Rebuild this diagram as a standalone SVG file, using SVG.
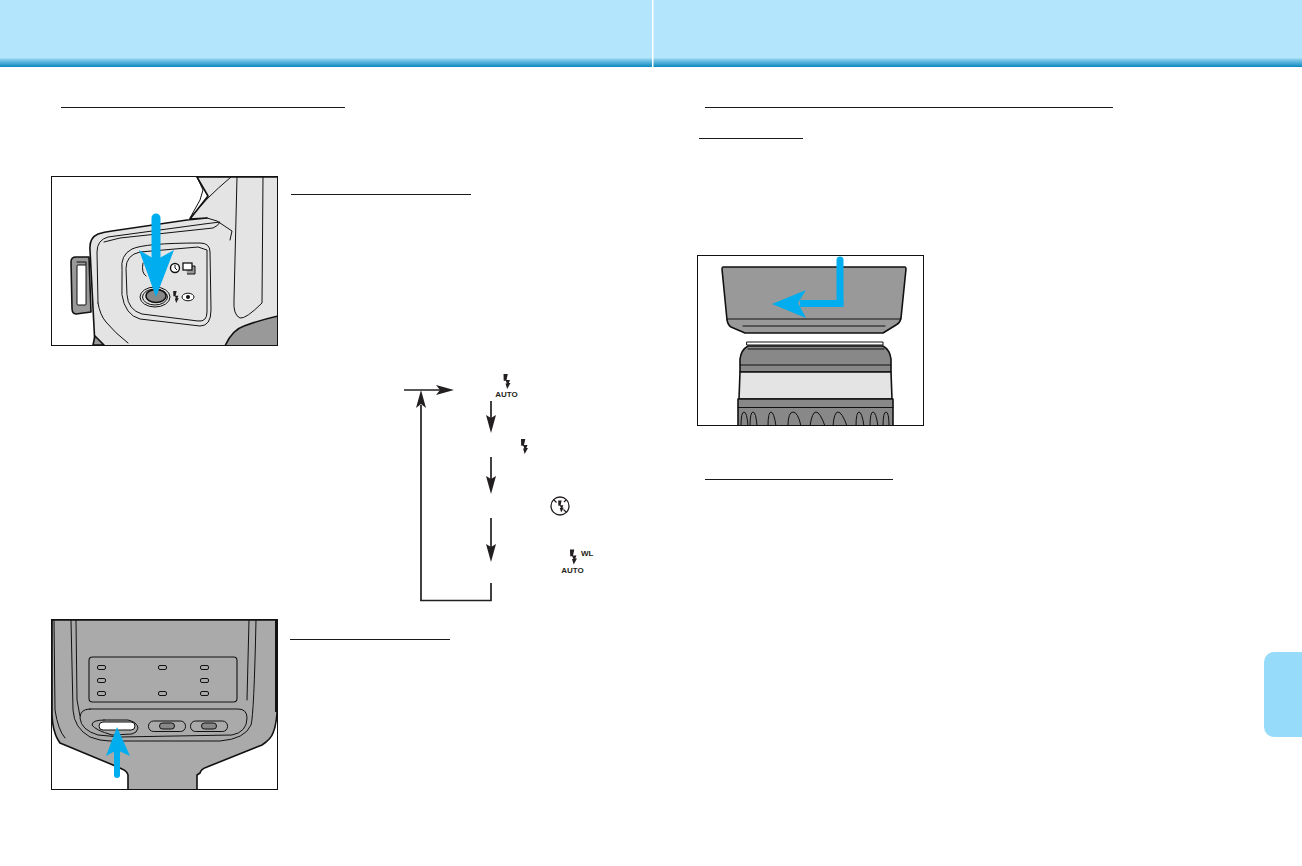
<svg xmlns="http://www.w3.org/2000/svg" width="1302" height="866" viewBox="0 0 1302 866">
<style>
.k{fill:none;stroke:#111;stroke-width:1;stroke-linejoin:round;stroke-linecap:round}
.o{stroke:#111;stroke-width:1.6;stroke-linejoin:round}
.h{stroke:#111;stroke-width:1;fill:none}
.b{fill:none;stroke:#00aeef;stroke-linecap:round}
.bf{fill:#00aeef}
.a{fill:none;stroke:#231f20;stroke-width:1.7}
.ah{fill:#231f20}
.t{font-family:"Liberation Sans",Arial,sans-serif;font-weight:700;fill:#231f20;font-size:8px}
</style>
<defs>
<linearGradient id="g" x1="0" y1="0" x2="0" y2="1">
<stop offset="0" stop-color="#b3e5fc"/><stop offset="0.1" stop-color="#8fd2ee"/><stop offset="1" stop-color="#0a88bf"/>
</linearGradient>
<path id="bolt" d="M-3.500-7.500 .8-7.500-.5-1.500 3-1.500 1.800 1.500 3.500 1.500 .2 7.500-1.500 2-.2 2-1.200-.8-3.300-.8Z" fill="#231f20"/>
<clipPath id="c1"><rect x="52" y="177" width="225" height="168"/></clipPath>
<clipPath id="c2"><rect x="52" y="620" width="225" height="169"/></clipPath>
<clipPath id="c3"><rect x="698" y="256" width="225" height="169"/></clipPath>
</defs>
<rect width="1302" height="866" fill="#fff"/>
<g id="header">
<rect x="0" y="0" width="1302" height="58" fill="#b3e5fc"/>
<rect x="0" y="58" width="1302" height="9" fill="url(#g)"/>
<rect x="652" y="0" width="1.500" height="67" fill="#fff"/>
</g>
<rect id="side-tab" x="1264" y="652" width="50" height="85" rx="10" fill="#96dcfa"/>
<g id="rules" stroke="#1a1a1a" stroke-width="1">
<path d="M61 107.500H345M705 107.500H1113M699 138.500H803M291 194.500H471M290 639.500H450M705 479.500H893"/>
</g>
<g id="camera-top">
<g clip-path="url(#c1)">
<rect x="52" y="177" width="225" height="168" fill="#fff"/>
<path class="o" fill="#e4e4e4" d="M197 177H278V346H95L90 250Q89 238 98 234 104 232 112 231L187 220 207 218 190 219 208 196Z"/>
<path class="k" d="M197 177 203 190 200 200 190 218M231 177Q218 188 208 198L190 218M237 177 234 300Q233 315 240 318 246 319 262 303L263 177"/>
<path class="k" d="M207 218 217 221 232 231 230 240"/>
<path class="o" fill="#999" d="M93 345 95 336 104 345ZM225 346Q232 330 244 326 260 320 278 316V346Z"/>
<path class="k" d="M98 303 97 252Q97 240 108 237L204 224 220 222Q218 226 213 228L120 238 104 242"/>
<path class="k" d="M98 303Q100 315 106 322 115 333 128 343"/>
<path class="k" d="M122 270Q120 255 132 249 145 243 200 243 210 243 210 252L211 310Q211 326 200 326L140 319Q125 315 122 295Z"/>
<path class="k" d="M126 268Q126 255 140 252L198 247 207 250 207 312Q207 322 198 321L142 314Q128 310 127 295Z"/>
<path class="o" fill="#999" d="M71 262Q71 257 76 257H89L91 312 76 314Q72 314 72 308Z"/>
<rect x="77" y="265" width="9" height="40" rx="1" fill="#fff" stroke="#111"/>
<path class="k" d="M77 262H86V265"/>
<ellipse cx="155" cy="297" rx="15" ry="10" fill="#e4e4e4" stroke="#111"/>
<ellipse cx="155" cy="297" rx="12.500" ry="8" fill="#e4e4e4" stroke="#111"/>
<ellipse cx="156" cy="296" rx="10" ry="6.500" fill="#888" stroke="#111" stroke-width="1.500"/>
<use href="#bolt" transform="translate(176 297) scale(.8)"/>
<ellipse cx="188" cy="297" rx="6" ry="3.800" fill="#fff" stroke="#111"/><circle cx="188" cy="297" r="2" fill="#111"/>
<circle cx="175" cy="268" r="4.500" fill="#fff" stroke="#111" stroke-width="1.400"/>
<path d="M175 265V268L177 270" stroke="#111" fill="none"/>
<path d="M186 266h9v8h-8" fill="#999" stroke="#111"/>
<rect x="183" y="263" width="9" height="7" fill="#fff" stroke="#111" stroke-width="1.300"/>
<path class="k" d="M143 263Q141 273 146 276"/>
<line class="b" x1="156" y1="218" x2="156" y2="262" stroke-width="9"/>
<path class="bf" d="M139 250 156 260 174 250 156 297Z"/>
</g>
<rect x="51.500" y="176.500" width="226" height="169" class="h"/>
</g>
<g id="flash-back">
<g clip-path="url(#c2)">
<rect x="52" y="620" width="225" height="169" fill="#fff"/>
<path class="o" fill="#aaa" d="M52 620H277V713Q276 726 273 733 271 739 262 745L207 767Q201 769 200 773L197 775V790H128V775Q127 771 122 769L113 765 60 743Q56 737 55 733 52 724 52 713Z"/>
<path d="M276 620V712" stroke="#111" stroke-width="2"/>
<path class="k" d="M54 620 55 710Q58 730 65 738M71 620 73 710Q74 728 90 737 100 741 110 741H220Q245 739 251 725 254 715 256 620M76 620 77 700 80 716M249 620 247 700"/>
<rect x="89" y="657" width="148" height="45" rx="3.500" fill="none" stroke="#111" stroke-width="1.100"/>
<g fill="#aaa" stroke="#111">
<rect x="97.500" y="665.500" width="8" height="4" rx="1.500"/><rect x="97.500" y="678.500" width="8" height="4" rx="1.500"/><rect x="97.500" y="691.500" width="8" height="4" rx="1.500"/>
<rect x="158.500" y="665.500" width="8" height="4" rx="1.500"/><rect x="158.500" y="691.500" width="8" height="4" rx="1.500"/>
<rect x="200.500" y="665.500" width="8" height="4" rx="1.500"/><rect x="200.500" y="678.500" width="8" height="4" rx="1.500"/><rect x="200.500" y="691.500" width="8" height="4" rx="1.500"/>
</g>
<path class="k" d="M90 709H238Q247 709 247 718 247 732 232 735L120 737 98 735Q81 730 80 718 80 709 90 709Z"/>
<path class="k" d="M104 720H128Q137 722 138 728 137 733 132 734L112 735Q95 730 92 725 92 720 104 720Z"/>
<rect x="99" y="722" width="36" height="8" rx="4" fill="#fff" stroke="#111"/>
<rect x="148.500" y="721" width="37" height="10.500" rx="5" fill="none" stroke="#111"/>
<rect x="159.500" y="723" width="15" height="6" rx="3" fill="#888" stroke="#111"/>
<rect x="190.500" y="721" width="37" height="10.500" rx="5" fill="none" stroke="#111"/>
<rect x="201.500" y="723" width="15" height="6" rx="3" fill="#888" stroke="#111"/>
<line class="b" x1="117" y1="750" x2="117" y2="775" stroke-width="6"/>
<path class="bf" d="M117 727 130 756 117 750 106 756Z"/>
</g>
<rect x="51.500" y="619.500" width="226" height="170" class="h"/>
</g>
<g id="lens-hood">
<g clip-path="url(#c3)">
<rect x="698" y="256" width="225" height="169" fill="#fff"/>
<path class="o" fill="#999" d="M723 267H905Q906 267 906 269L901 318Q900 323 896 325L883 333H745L731 327Q728 325 727 320L722 269Q722 267 723 267Z"/>
<path class="k" d="M727 319H901M743 326H885"/>
<path class="k" fill="#bbb" d="M747 342H883V345H747Z"/>
<path class="o" fill="#888" d="M740 372V359Q741 350 748 346H883Q890 350 891 359V372Z"/>
<path class="k" d="M748 349H884M740 365H891"/>
<path class="o" fill="#e4e4e4" d="M740 372H891L892 399H739Z"/>
<path class="o" fill="#888" d="M738 399H893V426H738Z"/>
<path class="k" d="M738 407.500H893"/>
<g class="k">
<path d="M741 426Q741 412 744 412T748 426M750 426Q750 412 753 412T757 426M768 426Q768 412 771 412T776 426M788 426Q788 412 793 412T801 426M810 426Q812 412 816 412T825 426M833 426Q834 412 838 412T847 426M856 426Q856 412 859 412T864 426M870 426Q870 412 873 412T878 426M883 426Q883 412 886 412T889 426"/>
</g>
<path class="b" d="M840 260V303" stroke-width="7"/>
<path d="M843.500 303.500H800" fill="none" stroke="#00aeef" stroke-width="7"/>
<path class="bf" d="M772 304 806 290 798 303 806 318Z"/>
</g>
<rect x="697.500" y="255.500" width="226" height="170" class="h"/>
</g>
<g id="connectors">
<path class="a" d="M404 390H440"/><path class="ah" d="M454 390 436 385 440 390 436 395Z"/>
<path class="a" d="M421 601V405"/><path class="ah" d="M421 390 416 408 421 404 426 408Z"/>
<path class="a" d="M420.200 600.500H491V583"/>
<path class="a" d="M491 401V422"/><path class="ah" d="M491 433 486 415 491 418 496 415Z"/>
<path class="a" d="M491 457V482"/><path class="ah" d="M491 494 486 476 491 479 496 476Z"/>
<path class="a" d="M491 518V551"/><path class="ah" d="M491 562 486 544 491 547 496 544Z"/>
</g>
<g id="mode-auto"><use href="#bolt" x="507" y="381.500"/><text class="t" x="506.500" y="397" text-anchor="middle">AUTO</text></g>
<g id="mode-fill"><use href="#bolt" x="524.500" y="446.500"/></g>
<g id="mode-off"><circle cx="560" cy="506" r="9" fill="#fff" stroke="#231f20" stroke-width="1.300"/><path d="M553.500 499.500l3 3M563.500 509.500l3 3M566 500l-2 2" stroke="#231f20" stroke-width="1.200"/><use href="#bolt" transform="translate(561 506.500) scale(.8)"/></g>
<g id="mode-wl"><use href="#bolt" x="573.500" y="557"/><text class="t" x="581" y="556">WL</text><text class="t" x="572.500" y="573.300" text-anchor="middle">AUTO</text></g>
</svg>
